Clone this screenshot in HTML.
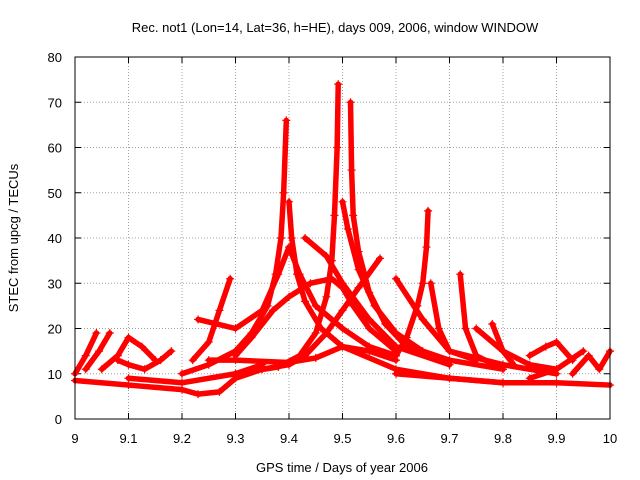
<!DOCTYPE html>
<html><head><meta charset="utf-8"><style>
html,body{margin:0;padding:0;background:#fff;}
svg{display:block;font-family:"Liberation Sans",sans-serif;}
</style></head><body>
<svg id="chart" width="640" height="480">
<text x="335" y="32" font-size="13" text-anchor="middle" fill="#000">Rec. not1 (Lon=14, Lat=36, h=HE), days 009, 2006, window WINDOW</text>
<text x="342" y="472" font-size="13" text-anchor="middle">GPS time / Days of year 2006</text>
<text x="18" y="238" font-size="13" text-anchor="middle" transform="rotate(-90 18 238)">STEC from upcg / TECUs</text>
<g id="grid"></g>
<g id="axes"></g>
<g id="marks"></g>
<rect x="75" y="57" width="535" height="362" fill="none" stroke="#000" stroke-width="1"/>
</svg>
<script>
const xTicks=[9,9.1,9.2,9.3,9.4,9.5,9.6,9.7,9.8,9.9,10];
const xTickLabels=["9","9.1","9.2","9.3","9.4","9.5","9.6","9.7","9.8","9.9","10"];
const yTicks=[0,10,20,30,40,50,60,70,80];
const yTickLabels=["0","10","20","30","40","50","60","70","80"];
// satellite arcs: [day, TECU]
const arc1=[[9.0,10],[9.02,14],[9.04,19]];
const arc2=[[9.02,11],[9.045,15],[9.065,19]];
const arc3=[[9.05,11],[9.08,14],[9.1,18],[9.125,16],[9.15,13]];
const arc4=[[9.08,13],[9.1,12],[9.13,11],[9.16,13],[9.18,15]];
const arc5=[[9.0,8.5],[9.1,7.5],[9.2,6.5],[9.23,5.5],[9.27,6],[9.3,9],[9.35,11],[9.4,12],[9.43,14],[9.47,19],[9.5,24],[9.53,29],[9.57,35.5]];
const arc6=[[9.2,10],[9.25,12],[9.3,15],[9.33,19],[9.36,25],[9.375,32],[9.385,40],[9.39,50],[9.395,66]];
const arc7=[[9.4,48],[9.405,40],[9.415,32],[9.43,26],[9.46,20],[9.5,16],[9.6,11],[9.7,9],[9.8,8]];
const arc8=[[9.3,10],[9.38,11.5],[9.42,14],[9.45,19],[9.47,27],[9.48,35],[9.485,45],[9.49,60],[9.492,74]];
const arc9=[[9.515,70],[9.517,55],[9.52,45],[9.53,37],[9.55,28],[9.58,21],[9.62,16],[9.7,12]];
const arc10=[[9.5,48],[9.51,42],[9.53,33],[9.56,25],[9.6,19],[9.65,15],[9.7,13],[9.8,11]];
const arc11=[[9.23,22],[9.3,20],[9.35,24],[9.38,32],[9.4,38],[9.42,32],[9.45,25],[9.5,20],[9.55,16],[9.6,14]];
const arc12=[[9.43,40],[9.47,36],[9.5,30],[9.55,22],[9.6,16],[9.7,12]];
const arc13=[[9.3,14],[9.33,18],[9.37,24],[9.4,27],[9.44,30],[9.48,31],[9.5,29],[9.52,25],[9.55,20],[9.6,15]];
const arc14=[[9.25,13],[9.3,13],[9.4,12.5],[9.45,13.5],[9.5,16],[9.55,15],[9.6,13]];
const arc15=[[9.22,13],[9.25,17],[9.27,24],[9.29,31]];
const arc16=[[9.6,31],[9.65,22],[9.7,15],[9.8,12],[9.9,10]];
const arc17=[[9.6,14],[9.62,18],[9.64,25],[9.65,30],[9.657,38],[9.66,46]];
const arc18=[[9.665,30],[9.68,20],[9.7,15],[9.75,13]];
const arc19=[[9.72,32],[9.73,20],[9.75,14],[9.8,11]];
const arc20=[[9.75,20],[9.8,15],[9.85,12],[9.9,11]];
const arc21=[[9.85,14],[9.88,16],[9.9,17],[9.93,13]];
const arc22=[[9.93,10],[9.96,14],[9.98,11],[10,15]];
const arc23=[[9.6,10],[9.7,9],[9.8,8],[9.9,8],[10,7.5]];
const arc24=[[9.78,21],[9.8,15],[9.82,12]];
const arc25=[[9.85,9],[9.9,11],[9.95,15]];
const arc26=[[9.1,9],[9.2,8],[9.3,10],[9.35,12]];
const arcs=[arc1,arc2,arc3,arc4,arc5,arc6,arc7,arc8,arc9,arc10,arc11,arc12,arc13,arc14,arc15,arc16,arc17,arc18,arc19,arc20,arc21,arc22,arc23,arc24,arc25,arc26];

const X0=75,X1=610,Y0=419,Y1=57;
const xs=v=>X0+(v-9)/(10-9)*(X1-X0);
const ys=v=>Y0-(v-0)/(80-0)*(Y0-Y1);
const NS="http://www.w3.org/2000/svg";
const grid=document.getElementById('grid'),axes=document.getElementById('axes'),marks=document.getElementById('marks');
function mk(tag,attrs,parent){const e=document.createElementNS(NS,tag);for(const k in attrs)e.setAttribute(k,attrs[k]);parent.appendChild(e);return e;}
xTicks.forEach((t,i)=>{
  const x=xs(t);
  if(i>0&&i<xTicks.length-1){const g=mk('line',{x1:x,x2:x,y1:Y1,y2:Y0,stroke:'#a0a0a0','stroke-dasharray':'1,2'},grid);
  
  }
  mk('line',{x1:x,x2:x,y1:Y0,y2:Y0-6,stroke:'#000'},axes);
  mk('line',{x1:x,x2:x,y1:Y1,y2:Y1+6,stroke:'#000'},axes);
  const tx=mk('text',{x:x,y:443,'font-size':13,'text-anchor':'middle'},axes);tx.textContent=xTickLabels[i];
  
  
});
yTicks.forEach((t,i)=>{
  const y=ys(t);
  if(i>0&&i<yTicks.length-1){const g=mk('line',{x1:X0,x2:X1,y1:y,y2:y,stroke:'#a0a0a0','stroke-dasharray':'1,2'},grid);
  
  }
  mk('line',{x1:X0,x2:X0+6,y1:y,y2:y,stroke:'#000'},axes);
  mk('line',{x1:X1,x2:X1-6,y1:y,y2:y,stroke:'#000'},axes);
  const tx=mk('text',{x:62,y:y+5,'font-size':13,'text-anchor':'end'},axes);tx.textContent=yTickLabels[i];
  
  
});
arcs.forEach((a,i)=>{
  const p=mk('polyline',{points:a.map(d=>xs(d[0])+','+ys(d[1])).join(' '),fill:'none',stroke:'#ff0000','stroke-width':5.5,'stroke-linejoin':'round','stroke-linecap':'round'},marks);
  
  
  a.forEach(d=>{
    const x=xs(d[0]),y=ys(d[1]);
    const m=mk('path',{d:`M${x-4},${y}H${x+4}M${x},${y-4}V${y+4}`,stroke:'#ff0000','stroke-width':1.2},marks);
    
    
  });
});
</script>
</body></html>
